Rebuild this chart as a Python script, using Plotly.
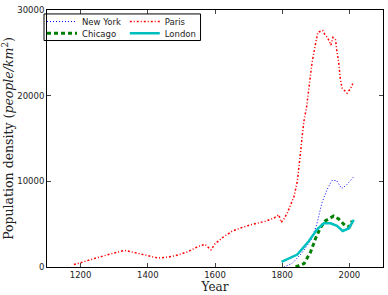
import plotly.graph_objects as go

# ---- data ----
ny_years = [1805, 1829, 1858, 1888, 1903, 1918, 1933, 1948, 1962, 1977, 1992, 2012]
ny_vals = [0, 400, 1600, 3300, 5000, 7450, 9000, 10100, 10100, 9150, 9600, 10500]

chi_years = [1840, 1865, 1884, 1899, 1914, 1929, 1953, 1968, 1988, 2000, 2008]
chi_vals = [0, 400, 1700, 3300, 4600, 5400, 5950, 5600, 4800, 4700, 5400]

paris_years = [1180, 1200, 1250, 1300, 1330, 1370, 1400, 1430, 1460, 1490, 1520, 1550,
               1570, 1580, 1588, 1600, 1625, 1650, 1675, 1700, 1725, 1750, 1775, 1790,
               1797, 1805, 1815, 1825, 1835, 1845, 1850, 1855, 1860, 1866, 1872, 1879,
               1889, 1897, 1906, 1921, 1926, 1936, 1945, 1951, 1959, 1962, 1968, 1973,
               1978, 1993, 2003, 2010]
paris_vals = [300, 500, 1100, 1650, 1950, 1600, 1300, 1050, 1150, 1400, 1800, 2400,
              2650, 2300, 2000, 2700, 3500, 4150, 4550, 4850, 5100, 5350, 5700, 6100,
              5200, 5600, 6300, 7200, 8200, 10000, 11500, 13500, 15500, 17400, 18500, 21000,
              23900, 25600, 27400, 27600, 27200, 26700, 25900, 26800, 26500, 25400, 23900, 22000,
              20900, 20300, 20800, 21400]

lon_years = [1798, 1845, 1879, 1904, 1924, 1944, 1963, 1980, 1998, 2013]
lon_vals = [600, 1450, 3000, 4400, 5100, 5100, 4800, 4200, 4500, 5500]

x_ticks = [1200, 1400, 1600, 1800, 2000]
y_ticks = [0, 10000, 20000, 30000]

W, H = 388, 295
ML, MR, MT, MB = 47, 4, 10, 24
PW = W - ML - MR
PH = H - MT - MB


def px2x(p):
    return (p - ML) / PW


def px2y(p):
    return 1 - (p - MT) / PH


fig = go.Figure()
fig.add_trace(go.Scatter(x=ny_years, y=ny_vals, mode="lines", name="New York",
                         line=dict(color="#0000ff", width=1, dash="1px,2px"), legend="legend"))
fig.add_trace(go.Scatter(x=paris_years, y=paris_vals, mode="lines", name="Paris",
                         line=dict(color="#ff0000", width=1.5, dash="2px,2px,1px,2px"), legend="legend2"))
fig.add_trace(go.Scatter(x=chi_years, y=chi_vals, mode="lines", name="Chicago",
                         line=dict(color="#008000", width=3, dash="4px,3px"), legend="legend3"))
fig.add_trace(go.Scatter(x=lon_years, y=lon_vals, mode="lines", name="London",
                         line=dict(color="#00bfbf", width=2.5), legend="legend4"))

tickfont = dict(family="DejaVu Sans", size=8.5, color="#222")
legfont = dict(family="DejaVu Sans", size=8.5, color="#222")


def leg(xp, yp):
    return dict(x=px2x(xp), y=px2y(yp), xanchor="left", yanchor="top",
                orientation="v", bgcolor="rgba(0,0,0,0)", borderwidth=0, font=legfont,
                itemwidth=30, tracegroupgap=0)


fig.update_layout(
    width=W, height=H,
    margin=dict(l=ML, r=MR, t=MT, b=MB),
    paper_bgcolor="white", plot_bgcolor="white",
    showlegend=True,
    xaxis=dict(range=[1100, 2100], tickvals=x_ticks, ticks="inside", ticklen=4,
               showline=True, linecolor="black", linewidth=1, mirror="ticks",
               showgrid=False, zeroline=False, tickfont=tickfont,
               title=dict(text="Year", font=dict(family="DejaVu Serif", size=12, color="#222"),
                          standoff=2)),
    yaxis=dict(range=[0, 30000], tickvals=y_ticks, tickformat="d", ticks="inside", ticklen=4,
               showline=True, linecolor="black", linewidth=1, mirror="ticks",
               showgrid=False, zeroline=False, tickfont=tickfont,
               title=dict(text="Population density (<i>people/km</i><sup>2</sup>)",
                          font=dict(family="DejaVu Serif", size=12.5, color="#222"),
                          standoff=3)),
    legend=leg(42, 7),
    legend2=leg(125, 7),
    legend3=leg(42, 19),
    legend4=leg(125, 19),
    shapes=[dict(type="rect", xref="paper", yref="paper",
                 x0=px2x(44), x1=px2x(201),
                 y0=px2y(41), y1=px2y(14),
                 line=dict(color="black", width=1), fillcolor="rgba(0,0,0,0)", layer="above")],
)

fig.write_html("out.html")
